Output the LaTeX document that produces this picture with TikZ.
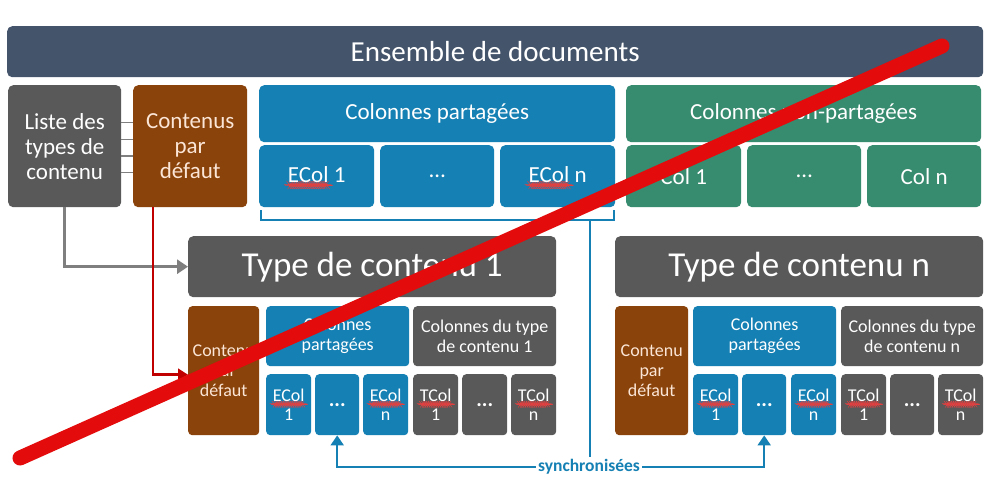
\documentclass[tikz,border=0pt]{standalone}
\usepackage{fontspec}
\setmainfont{Carlito}
\usetikzlibrary{arrows.meta,decorations.pathmorphing}
\definecolor{slate}{HTML}{44546A}
\definecolor{dgray}{HTML}{595959}
\definecolor{brown}{HTML}{8A430A}
\definecolor{cblue}{HTML}{1580B3}
\definecolor{cgreen}{HTML}{378B6F}
\definecolor{darkred}{HTML}{C00000}
\definecolor{bigred}{HTML}{E30B0B}
\definecolor{cream}{HTML}{FBE5D6}
\definecolor{lgray}{HTML}{7F7F7F}
\definecolor{wavered}{HTML}{E04040}
\newsavebox\wbox
\newcommand\wavy[1]{\sbox\wbox{#1}\leavevmode\rlap{\raisebox{-3.2pt}{\tikz\draw[wavered, line width=0.45pt, decorate, decoration={snake, amplitude=0.5pt, segment length=2.2pt}] (0pt,0pt) -- (\wd\wbox,0pt);}}\usebox\wbox}
\newcommand\bdots{{\fontsize{21}{18}\selectfont\bfseries...}}
\begin{document}
\begin{tikzpicture}[x=1pt,y=-1pt,
  box/.style={rectangle, rounded corners=5pt, inner sep=1pt, align=center, text=white, anchor=north west},
  sbox/.style={box, rounded corners=4pt},
  bline/.style={draw=cblue, line width=2pt},
  barrow/.style={bline, -{Triangle[length=10pt,width=13pt]}},
  garrow/.style={draw=lgray, line width=3pt, -{Triangle[length=11pt,width=14pt]}},
  rarrow/.style={draw=darkred, line width=2.5pt, -{Triangle[length=10pt,width=12pt]}},
  big/.style={font=\fontsize{23}{25}\selectfont},
  mid/.style={font=\fontsize{18}{20}\selectfont},
  small/.style={font=\fontsize{18}{18.5}\selectfont},
]
\useasboundingbox[fill=white] (0,0) rectangle (988,481);

% top bar
\node[box, fill=slate, minimum width=976pt, minimum height=51pt, font=\fontsize{29}{32}\selectfont] (ens) at (7,26) {Ensemble de documents};

% left boxes
\node[box, fill=dgray, minimum width=113pt, minimum height=122pt, big] (liste) at (8,85) {Liste des\\types de\\contenu};
\node[box, fill=brown, minimum width=114pt, minimum height=122pt, big, text=cream] (defaut) at (133,85) {Contenus\\par\\défaut};

% shared columns
\node[box, fill=cblue, minimum width=356pt, minimum height=57pt, big] (cp) at (259,85) {Colonnes partagées};
\node[box, fill=cblue, minimum width=115pt, minimum height=62pt, big] (e1) at (259,145) {\wavy{ECol} 1};
\node[box, fill=cblue, minimum width=114pt, minimum height=62pt, big] (e2) at (380,145) {\dots};
\node[box, fill=cblue, minimum width=115pt, minimum height=62pt, big] (e3) at (500,145) {\wavy{ECol} n};

% non-shared columns
\node[box, fill=cgreen, minimum width=355pt, minimum height=57pt, big] (cnp) at (626,85) {Colonnes non-partagées};
\node[box, fill=cgreen, minimum width=115pt, minimum height=62pt, big] (c1) at (626,145) {Col 1};
\node[box, fill=cgreen, minimum width=114pt, minimum height=62pt, big] (c2) at (747,145) {\dots};
\node[box, fill=cgreen, minimum width=114pt, minimum height=62pt, big] (c3) at (867,145) {Col n};

% type headers
\node[box, fill=dgray, minimum width=368pt, minimum height=61pt, font=\fontsize{35}{40}\selectfont] (t1) at (188,236) {Type de contenu 1};
\node[box, fill=dgray, minimum width=368pt, minimum height=61pt, font=\fontsize{35}{40}\selectfont] (tn) at (615,236) {Type de contenu n};

% type 1 sub-row
\node[sbox, fill=brown, minimum width=71pt, minimum height=129pt, mid, text=cream] (d1) at (188,306) {Contenu\\par\\défaut};
\node[sbox, fill=cblue, minimum width=143pt, minimum height=60pt, mid] (p1) at (266,306) {Colonnes\\partagées};
\node[sbox, fill=dgray, minimum width=143pt, minimum height=60pt, mid] (q1) at (413,306) {Colonnes du type\\de contenu 1};
\node[sbox, fill=cblue, minimum width=45pt, minimum height=61pt, small] (e11) at (266,374) {\wavy{ECol}\\1};
\node[sbox, fill=cblue, minimum width=44pt, minimum height=61pt, small] (e12) at (315,374) {\bdots};
\node[sbox, fill=cblue, minimum width=45pt, minimum height=61pt, small] (e13) at (363,374) {\wavy{ECol}\\n};
\node[sbox, fill=dgray, minimum width=45pt, minimum height=61pt, small] (t11) at (413,374) {\wavy{TCol}\\1};
\node[sbox, fill=dgray, minimum width=45pt, minimum height=61pt, small] (t12) at (462,374) {\bdots};
\node[sbox, fill=dgray, minimum width=45pt, minimum height=61pt, small] (t13) at (511,374) {\wavy{TCol}\\n};

% type n sub-row
\node[sbox, fill=brown, minimum width=73pt, minimum height=129pt, mid, text=cream] (dn) at (615,306) {Contenu\\par\\défaut};
\node[sbox, fill=cblue, minimum width=143pt, minimum height=60pt, mid] (pn) at (693,306) {Colonnes\\partagées};
\node[sbox, fill=dgray, minimum width=142pt, minimum height=60pt, mid] (qn) at (841,306) {Colonnes du type\\de contenu n};
\node[sbox, fill=cblue, minimum width=45pt, minimum height=61pt, small] (en1) at (693,374) {\wavy{ECol}\\1};
\node[sbox, fill=cblue, minimum width=44pt, minimum height=61pt, small] (en2) at (742,374) {\bdots};
\node[sbox, fill=cblue, minimum width=45pt, minimum height=61pt, small] (en3) at (791,374) {\wavy{ECol}\\n};
\node[sbox, fill=dgray, minimum width=45pt, minimum height=61pt, small] (tn1) at (841,374) {\wavy{TCol}\\1};
\node[sbox, fill=dgray, minimum width=44pt, minimum height=61pt, small] (tn2) at (890,374) {\bdots};
\node[sbox, fill=dgray, minimum width=45pt, minimum height=61pt, small] (tn3) at (938,374) {\wavy{TCol}\\n};

% short links between liste and defaut
\foreach \yy in {122.7,139.3,156,172.7}
  \draw[lgray, line width=1.5pt] (liste.east |- 0,\yy) -- (defaut.west |- 0,\yy);

% arrows to type 1
\draw[garrow] (liste.south) |- (t1.west);
\draw[rarrow] ([xshift=20pt]defaut.south west) |- ([yshift=-4pt]d1.west);

% bracket under shared columns
\draw[bline] ([xshift=2pt,yshift=-3pt]e1.south west) -- ++(0,10) -| ([xshift=-1pt,yshift=-3pt]e3.south east);
\node[text=cblue, font=\bfseries\fontsize{17.5}{20}\selectfont, inner sep=2pt] (sync) at (589,467) {synchronisées};
\coordinate (bm) at (590,220);
\draw[bline] (bm) -- (bm |- sync.north);
\draw[barrow] (sync.west) -| (e12.south);
\draw[barrow] (sync.east) -| (en2.south);

% big red strike-through
\draw[bigred, line width=15pt, line cap=round] (942,46) -- (20,458);
\end{tikzpicture}
\end{document}
